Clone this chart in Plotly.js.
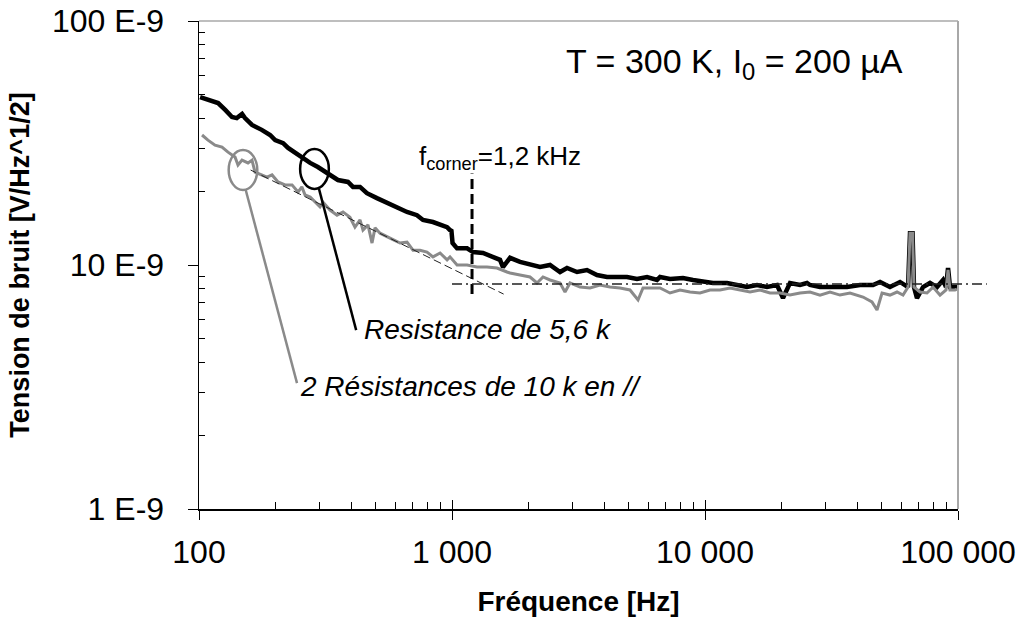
<!DOCTYPE html>
<html><head><meta charset="utf-8">
<script src="https://cdn.plot.ly/plotly-3.0.1.min.js"></script>
<style>html,body{margin:0;padding:0;background:#fff}#chart{width:1020px;height:619px}</style>
</head><body><div id="chart"></div>
<script>
// Resistance de 5,6 k  (nV/sqrt(Hz), i.e. x E-9)
const freqBlack = [101,108.5,119,127,135,141,148,152,162,177,191,200,215,225,240,255,275,295,324,354,388,406,433,461,505,554,606,664,727,768,841,897,956,982,995,1005,1047,1147,1211,1326,1452,1548,1590,1665,1696,1857,2034,2228,2440,2673,2848,3120,3417,3742,4099,4490,4918,5385,5900,6462,6640,7273,8185,8966,9820,10755,12218,13383,14656,16055,17579,19256,20338,21677,23744,25305,26002,28480,32060,36420,40993,46130,49180,53850,58990,63470,64610,66110,67000,68850,72730,77510,82600,87270,89680,91330,92990,95560,99080];
const noiseBlack = [48.8,47.5,46.1,43.2,40.4,40.0,41.6,40.0,37.5,35.8,34.1,32.5,31.6,30.2,28.8,27.7,26.2,25.2,23.8,22.3,21.9,20.9,20.9,19.7,18.8,17.95,17.3,16.5,16.0,15.3,15.0,14.6,14.3,13.9,13.8,12.3,11.7,11.7,11.3,11.2,10.8,10.5,9.81,10.5,10.7,10.3,10.0,9.81,10.0,9.36,9.72,9.36,9.54,9.10,8.93,8.93,8.93,8.76,8.93,8.68,8.93,8.76,8.85,8.68,8.52,8.44,8.44,8.28,8.12,8.28,8.12,8.28,7.32,8.44,8.28,8.44,8.28,8.12,8.12,8.12,8.28,8.28,8.52,8.12,8.52,8.12,13.5,13.5,8.12,7.32,8.12,8.44,8.12,8.68,8.12,9.72,8.12,8.12,8.12];

// 2 Résistances de 10 k en //
const freqGray = [102.8,108.5,115.7,123.3,130.2,138.8,142.6,147.9,156.2,162,166.5,177,185.7,194.4,205.3,218.8,233.2,246.3,255,262.4,275,300.8,309.1,329.5,351.2,370.9,395,413.6,433,444.8,465.6,482.9,496.3,519.3,554,584.7,623.2,664,701.3,747.3,796.4,841,897,956,982,1047,1147,1256,1375,1506,1650,1696,1857,2034,2168,2289,2440,2673,2797,2927,3206,3512,3846,4212,4613,5052,5436,5687,6229,6640,7273,7965,8724,9555,10466,11464,12556,13752,15063,16499,18071,19793,21677,23744,26002,28480,31195,34168,37424,42125,45710,47850,50090,53850,57410,60630,63470,64610,66110,66990,70770,75420,79650,84900,89680,91330,92990,97300,99080];
const noiseGray = [34.1,32.5,31.0,30.4,29.0,27.7,25.7,26.9,26.2,26.9,24.0,23.4,22.9,23.4,21.9,21.3,21.3,19.9,20.9,19.4,19.0,17.3,18.1,16.8,16.0,16.5,15.7,14.3,15.3,13.9,14.6,12.3,14.2,13.5,13.0,12.7,12.3,12.4,11.5,11.5,11.3,10.8,11.2,10.5,10.8,10.0,10.0,9.81,9.81,9.72,9.36,9.27,9.10,8.93,8.44,8.93,8.68,8.44,7.75,8.44,8.12,8.05,8.28,8.12,8.05,7.90,7.19,8.05,8.05,8.05,7.68,7.90,7.75,7.68,7.90,7.90,8.05,7.90,7.75,7.90,7.68,7.68,7.53,7.68,7.75,7.53,7.75,7.53,7.68,7.39,7.06,6.54,7.68,7.53,7.75,7.53,8.12,13.5,13.5,8.12,7.75,7.68,8.12,7.53,7.90,9.54,7.90,7.90,7.97];

// 1/f asymptote, corner frequency and white-noise level
const fitFreq = [160, 1600];
const fitNoise = [24.5, 7.6];
const cornerFreq = 1200;
const cornerSpan = [7.6, 23.7];
const whiteLevel = 8.35;
const whiteFreqRange = [1000, 130000];

// Axes
const xRangeDec = [2, 5];
const yRangeDec = [0, 2];
const xTickVals = [100, 1000, 10000, 100000];
const xTickText = ["100", "1 000", "10 000", "100 000"];
const yTickVals = [1, 10, 100];
const yTickText = ["1 E-9", "10 E-9", "100 E-9"];

const FONT = "Liberation Sans, Arial, sans-serif";
const GRAY = "#8a8a8a";

function minorVals(lo, hi) {
  const out = [];
  for (let d = Math.pow(10, lo); d < Math.pow(10, hi); d *= 10)
    for (let k = 2; k <= 9; k++) out.push(d * k);
  return out;
}
const px = f => (Math.log10(f) - xRangeDec[0]) / (xRangeDec[1] - xRangeDec[0]);
const py = v => (Math.log10(v) - yRangeDec[0]) / (yRangeDec[1] - yRangeDec[0]);

const traces = [
  {x: freqBlack, y: noiseBlack, mode: 'lines', line: {color: '#000', width: 4.5}, hoverinfo: 'skip'},
  {x: freqGray, y: noiseGray, mode: 'lines', line: {color: GRAY, width: 3}, hoverinfo: 'skip'},
  {x: fitFreq, y: fitNoise, mode: 'lines', line: {color: '#222', width: 1, dash: '8px,4px'}, hoverinfo: 'skip'},
  {x: [xTickVals[0]], y: [yTickVals[1]], xaxis: 'x2', mode: 'markers', marker: {opacity: 0}, hoverinfo: 'skip'}
];

const layout = {
  width: 1020, height: 619,
  margin: {l: 199, r: 62, t: 21, b: 110},
  paper_bgcolor: '#fff', plot_bgcolor: '#fff',
  showlegend: false,
  font: {family: FONT, color: '#000'},
  xaxis: {
    type: 'log', range: xRangeDec, tickmode: 'array', tickvals: xTickVals, ticktext: xTickText,
    ticks: 'outside', ticklen: 9, tickwidth: 1, tickcolor: '#000', ticklabelstandoff: 5,
    showline: true, linecolor: '#000', linewidth: 1.5, showgrid: false, zeroline: false,
    tickfont: {size: 32, family: FONT},
    minor: {tickmode: 'array', tickvals: minorVals(2, 5), ticks: 'inside', ticklen: 7, tickwidth: 1, tickcolor: '#000', showgrid: false},
    title: {text: '<b>Fréquence [Hz]</b>', font: {size: 28, family: FONT}, standoff: 22}
  },
  xaxis2: {
    type: 'log', range: xRangeDec, overlaying: 'x', anchor: 'y', side: 'bottom',
    tickmode: 'array', tickvals: xTickVals, ticks: 'inside', ticklen: 9, tickwidth: 1, tickcolor: '#000',
    showticklabels: false, showline: false, showgrid: false, zeroline: false
  },
  yaxis: {
    type: 'log', range: yRangeDec, tickmode: 'array', tickvals: yTickVals, ticktext: yTickText,
    ticks: 'outside', ticklen: 10, tickwidth: 1, tickcolor: '#000', ticklabelstandoff: 17,
    showline: true, linecolor: '#000', linewidth: 1.5, showgrid: false, zeroline: false,
    tickfont: {size: 32, family: FONT},
    minor: {tickmode: 'array', tickvals: minorVals(0, 2), ticks: 'inside', ticklen: 6, tickwidth: 1, tickcolor: '#000', showgrid: false},
    title: {text: '<b>Tension de bruit [V/Hz^1/2]</b>', font: {size: 27, family: FONT}, standoff: 14}
  },
  shapes: [
    {type: 'line', xref: 'paper', yref: 'paper', x0: 0, x1: 1, y0: 1, y1: 1, line: {color: '#a8a8a8', width: 1.5}},
    {type: 'line', xref: 'paper', yref: 'paper', x0: 1, x1: 1, y0: 0, y1: 1, line: {color: '#a8a8a8', width: 2}},
    {type: 'line', xref: 'x', yref: 'y', x0: cornerFreq, x1: cornerFreq, y0: cornerSpan[0], y1: cornerSpan[1], line: {color: '#000', width: 3, dash: '10px,5px'}},
    {type: 'line', xref: 'paper', yref: 'paper', x0: px(whiteFreqRange[0]), x1: px(whiteFreqRange[1]), y0: py(whiteLevel), y1: py(whiteLevel), line: {color: '#222', width: 1.5, dash: '10px,4px,2px,4px'}},
    {type: 'circle', xref: 'x', yref: 'y', x0: 131, x1: 170, y0: 20.3, y1: 29.6, line: {color: GRAY, width: 2.5}},
    {type: 'circle', xref: 'x', yref: 'y', x0: 251, x1: 326, y0: 20.5, y1: 29.9, line: {color: '#000', width: 2.5}},
    {type: 'line', xref: 'x', yref: 'y', x0: 153, x1: 244, y0: 20.3, y1: 3.28, line: {color: GRAY, width: 2.5}},
    {type: 'line', xref: 'x', yref: 'y', x0: 298, x1: 418, y0: 20.5, y1: 5.41, line: {color: '#000', width: 2.5}}
  ],
  annotations: [
    {xref: 'paper', yref: 'paper', x: 0.706, y: 0.912, xanchor: 'center', yanchor: 'middle', showarrow: false,
     text: 'T = 300 K, I<sub>0</sub> = 200 µA', font: {size: 34, family: FONT}},
    {xref: 'paper', yref: 'paper', x: 0.287, y: 0.721, xanchor: 'left', yanchor: 'middle', showarrow: false,
     text: 'f<sub>corner</sub>=1,2 kHz', font: {size: 26, family: FONT}},
    {xref: 'paper', yref: 'paper', x: 0.215, y: 0.367, xanchor: 'left', yanchor: 'middle', showarrow: false,
     text: '<i>Resistance de 5,6 k</i>', font: {size: 28, family: FONT}},
    {xref: 'paper', yref: 'paper', x: 0.131, y: 0.252, xanchor: 'left', yanchor: 'middle', showarrow: false,
     text: '<i>2 Résistances de 10 k en //</i>', font: {size: 28, family: FONT}}
  ]
};

Plotly.newPlot('chart', traces, layout, {staticPlot: true, displayModeBar: false});
</script>
</body></html>
